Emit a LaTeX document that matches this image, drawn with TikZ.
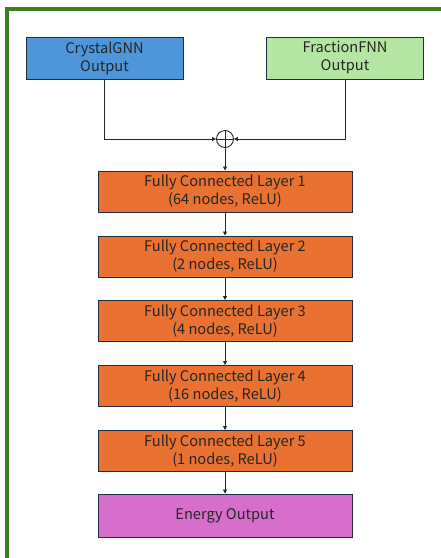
\documentclass[tikz,border=0pt]{standalone}
\usepackage{fontspec}
\setmainfont{Noto Sans CJK JP}
\usetikzlibrary{arrows.meta}
\definecolor{frameg}{HTML}{3B7D23}
\definecolor{gnnblue}{HTML}{4E95D9}
\definecolor{fnngreen}{HTML}{B4E5A2}
\definecolor{fcorange}{HTML}{E97132}
\definecolor{outmag}{HTML}{D86ECC}
\definecolor{boxline}{HTML}{1F2D3D}
\tikzset{
  box/.style={draw=boxline, line width=1pt, inner sep=0pt, align=center,
    font=\fontsize{14.6}{18}\selectfont, text=black!85},
  inbox/.style={box, minimum width=157pt, minimum height=42pt},
  fcbox/.style={box, fill=fcorange, minimum width=254pt, minimum height=41pt},
  conn/.style={draw=black!85, line width=0.9pt},
  arr/.style={conn, -{Triangle[length=4pt,width=4pt]}}
}
\begin{document}
\begin{tikzpicture}[x=1pt,y=-1pt]
\useasboundingbox (0,0) rectangle (440,558);
\draw[frameg, line width=4pt] (7,560) -- (7,8.5) -- (441,8.5);
\node[inbox, fill=gnnblue] (gnn) at (104.5,58) {CrystalGNN\\Output};
\node[inbox, fill=fnngreen] (fnn) at (345,58) {FractionFNN\\Output};
\node[circle, draw=black!85, line width=0.9pt, minimum size=17pt, inner sep=0pt] (sum) at (225,139) {};
\draw[conn] (sum.north) -- (sum.south) (sum.west) -- (sum.east);
\node[fcbox] (fc1) at (225,191.5) {Fully Connected Layer 1\\(64 nodes, ReLU)};
\node[fcbox] (fc2) at (225,256.5) {Fully Connected Layer 2\\(2 nodes, ReLU)};
\node[fcbox] (fc3) at (225,321) {Fully Connected Layer 3\\(4 nodes, ReLU)};
\node[fcbox] (fc4) at (225,386) {Fully Connected Layer 4\\(16 nodes, ReLU)};
\node[fcbox] (fc5) at (225,451) {Fully Connected Layer 5\\(1 nodes, ReLU)};
\node[box, fill=outmag, minimum width=254pt, minimum height=43pt] (out) at (225,515.5) {Energy Output};
\draw[arr] (gnn.south) |- (sum.west);
\draw[arr] (fnn.south) |- (sum.east);
\draw[arr] (sum.south) -- (fc1.north);
\draw[arr] (fc1.south) -- (fc2.north);
\draw[arr] (fc2.south) -- (fc3.north);
\draw[arr] (fc3.south) -- (fc4.north);
\draw[arr] (fc4.south) -- (fc5.north);
\draw[arr] (fc5.south) -- (out.north);
\end{tikzpicture}
\end{document}
